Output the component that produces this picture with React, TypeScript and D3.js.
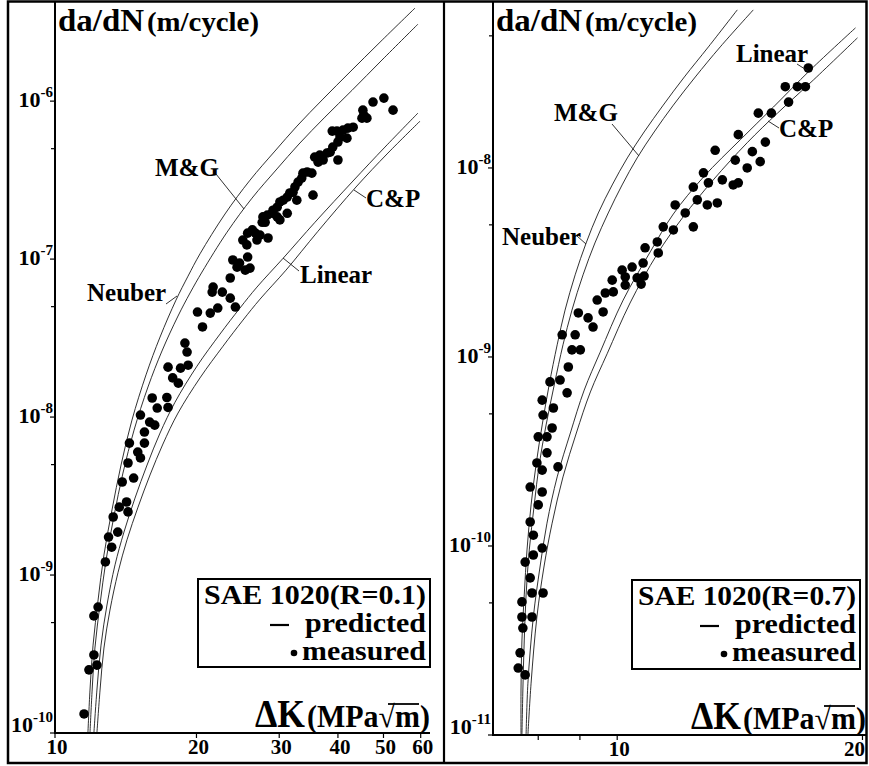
import React from 'react';
import * as d3 from 'd3';

const W = 869;
const H = 766;
const FONT = '"Liberation Serif", "Times New Roman", "DejaVu Serif", serif';

// ---------------- Left panel: SAE 1020, R = 0.1 ----------------
const leftXTicks = [10, 20, 30, 40, 50, 60];
const leftXMinor: number[] = [];
const leftYExponents = [-10, -9, -8, -7, -6];
const leftYMinor = [5e-10, 5e-9, 5e-8, 5e-7];

const leftNeuberDK = [11.75, 11.87, 12.05, 12.35, 12.71, 13.22, 13.82, 14.58, 15.62, 16.73, 18.09, 19.19, 20.35, 23.0, 26.0, 29.38, 32.73, 37.17, 42.44, 49.15, 58.34];
const leftNeuberRate = [1e-10, 1.87e-10, 3.6e-10, 6.95e-10, 1.34e-9, 2.58e-9, 4.97e-9, 9.57e-9, 1.85e-8, 3.21e-8, 5.5e-8, 7.8e-8, 1.08e-7, 1.93e-7, 3.16e-7, 4.83e-7, 6.95e-7, 1.03e-6, 1.53e-6, 2.36e-6, 3.88e-6];
const leftMGDK = [11.87, 11.99, 12.16, 12.47, 12.84, 13.35, 13.95, 14.73, 15.77, 16.89, 18.27, 19.38, 20.55, 23.23, 26.25, 29.67, 33.05, 37.53, 42.85, 49.63, 59.19];
const leftMGRate = [1e-10, 1.82e-10, 3.45e-10, 6.55e-10, 1.24e-9, 2.36e-9, 4.42e-9, 8.27e-9, 1.55e-8, 2.62e-8, 4.36e-8, 6.1e-8, 8.28e-8, 1.48e-7, 2.43e-7, 3.72e-7, 5.35e-7, 7.92e-7, 1.17e-6, 1.82e-6, 3.07e-6];
const leftLinearDK = [12.1, 12.28, 12.53, 12.9, 13.42, 14.02, 14.8, 15.7, 16.73, 18.0, 20.05, 22.44, 24.75, 26.9, 30.56, 35.74, 43.06, 50.37, 59.19];
const leftLinearRate = [1e-10, 1.87e-10, 3.6e-10, 6.46e-10, 1.16e-9, 1.87e-9, 3.07e-9, 4.97e-9, 7.92e-9, 1.24e-8, 2.1e-8, 3.35e-8, 4.9e-8, 6.65e-8, 1.01e-7, 1.71e-7, 3.12e-7, 5.12e-7, 8.4e-7];
const leftCPDK = [12.28, 12.47, 12.71, 13.09, 13.62, 14.23, 15.02, 15.93, 16.97, 18.27, 20.35, 22.78, 25.12, 27.31, 31.01, 36.27, 43.7, 51.1, 59.78];
const leftCPRate = [1e-10, 1.87e-10, 3.45e-10, 6.0e-10, 1.04e-9, 1.67e-9, 2.69e-9, 4.3e-9, 6.75e-9, 1.06e-8, 1.77e-8, 2.81e-8, 4.11e-8, 5.58e-8, 8.51e-8, 1.5e-7, 2.86e-7, 4.69e-7, 7.46e-7];

const leftMeasuredDK = [50.1, 47.5, 52.4, 45.2, 45.4, 46.1, 45.0, 43.1, 42.0, 41.0, 39.8, 38.9, 41.8, 40.4, 40.0, 39.0, 38.5, 37.9, 36.6, 35.7, 37.2, 36.3, 40.0, 34.4, 33.7, 33.5, 35.2, 32.9, 32.4, 32.1, 31.6, 31.2, 30.6, 30.1, 32.7, 35.4, 29.7, 29.1, 29.0, 28.3, 27.7, 29.7, 31.2, 30.1, 27.6, 28.0, 26.3, 25.7, 26.7, 27.3, 26.9, 28.4, 25.1, 25.6, 23.9, 25.7, 24.7, 24.4, 26.0, 25.4, 23.6, 21.7, 21.6, 22.7, 23.6, 24.2, 20.1, 21.4, 22.2, 20.6, 18.9, 19.1, 19.2, 17.4, 18.5, 17.8, 18.3, 16.1, 17.3, 16.5, 17.4, 15.2, 15.9, 16.3, 15.5, 14.4, 15.5, 15.0, 15.2, 14.3, 13.9, 14.7, 14.2, 13.7, 14.3, 13.3, 13.6, 13.0, 13.2, 12.8, 12.35, 12.1, 12.1, 11.81, 12.28, 11.53];
const leftMeasuredRate = [1.045e-6, 9.87e-7, 8.77e-7, 8.77e-7, 8.15e-7, 7.8e-7, 7.8e-7, 6.84e-7, 6.75e-7, 6.55e-7, 6.46e-7, 6.46e-7, 5.83e-7, 5.92e-7, 5.51e-7, 5.12e-7, 4.75e-7, 4.69e-7, 4.55e-7, 4.42e-7, 4.24e-7, 4.11e-7, 4.24e-7, 3.56e-7, 3.5e-7, 3.26e-7, 3.5e-7, 3.07e-7, 2.86e-7, 2.65e-7, 2.62e-7, 2.47e-7, 2.36e-7, 2.3e-7, 2.36e-7, 2.54e-7, 2.13e-7, 2.04e-7, 1.95e-7, 1.9e-7, 1.85e-7, 1.85e-7, 1.95e-7, 1.77e-7, 1.71e-7, 1.71e-7, 1.53e-7, 1.46e-7, 1.46e-7, 1.42e-7, 1.32e-7, 1.36e-7, 1.32e-7, 1.23e-7, 9.87e-8, 1.03e-7, 9.44e-8, 8.89e-8, 8.77e-8, 8.51e-8, 7.59e-8, 6.65e-8, 6.18e-8, 6.18e-8, 5.66e-8, 4.97e-8, 4.62e-8, 4.55e-8, 4.9e-8, 3.72e-8, 2.94e-8, 2.58e-8, 2.13e-8, 2.07e-8, 2.04e-8, 1.77e-8, 1.64e-8, 1.32e-8, 1.33e-8, 1.14e-8, 1.15e-8, 1.03e-8, 9.29e-9, 8.89e-9, 8.04e-9, 6.84e-9, 6.84e-9, 6.0e-9, 5.51e-9, 5.12e-9, 3.88e-9, 4.11e-9, 2.9e-9, 2.69e-9, 2.51e-9, 2.33e-9, 1.87e-9, 1.74e-9, 1.5e-9, 1.21e-9, 6.27e-10, 5.51e-10, 3.12e-10, 2.51e-10, 2.69e-10, 1.32e-10];

// ---------------- Right panel: SAE 1020, R = 0.7 ----------------
const rightXTicks = [10, 20];
const rightXMinor = [8, 9];
const rightYExponents = [-11, -10, -9, -8];
const rightYMinor = [5e-11, 5e-10, 5e-9, 5e-8];

const rightNeuberDK = [7.62, 7.62, 7.64, 7.69, 7.75, 7.84, 7.95, 8.09, 8.25, 8.44, 8.63, 8.88, 9.16, 9.48, 9.86, 10.29, 10.79, 11.39, 12.09, 12.94, 14.04];
const rightNeuberRate = [1e-11, 1.73e-11, 3.18e-11, 5.51e-11, 9.53e-11, 1.65e-10, 2.68e-10, 4.37e-10, 7.11e-10, 1.16e-9, 1.77e-9, 2.72e-9, 4.01e-9, 5.78e-9, 8.13e-9, 1.13e-8, 1.55e-8, 2.15e-8, 3.03e-8, 4.37e-8, 6.86e-8];
const rightMGDK = [7.64, 7.66, 7.69, 7.73, 7.8, 7.91, 8.02, 8.18, 8.37, 8.58, 8.8, 9.08, 9.39, 9.75, 10.14, 10.58, 11.1, 11.72, 12.47, 13.38, 14.69];
const rightMGRate = [1e-11, 1.73e-11, 3.18e-11, 5.51e-11, 9.53e-11, 1.65e-10, 2.68e-10, 4.37e-10, 7.11e-10, 1.16e-9, 1.77e-9, 2.72e-9, 4.01e-9, 5.78e-9, 8.13e-9, 1.13e-8, 1.55e-8, 2.15e-8, 3.03e-8, 4.37e-8, 6.86e-8];
const rightLinearDK = [7.73, 7.77, 7.89, 8.04, 8.2, 8.44, 8.76, 9.11, 9.53, 10.17, 10.98, 11.72, 12.76, 14.16, 15.55, 17.26, 19.61];
const rightLinearRate = [1e-11, 1.88e-11, 4.21e-11, 7.74e-11, 1.32e-10, 2.32e-10, 3.96e-10, 6.68e-10, 1.06e-9, 2.0e-9, 3.6e-9, 5.71e-9, 8.95e-9, 1.41e-8, 2.1e-8, 3.3e-8, 5.51e-8];
const rightCPDK = [7.77, 7.84, 7.97, 8.13, 8.32, 8.58, 8.91, 9.27, 9.72, 10.37, 11.2, 12.05, 13.12, 14.44, 15.73, 17.41, 19.72];
const rightCPRate = [1e-11, 1.88e-11, 4.21e-11, 7.74e-11, 1.32e-10, 2.32e-10, 3.96e-10, 6.53e-10, 1.04e-9, 1.93e-9, 3.51e-9, 5.51e-9, 8.65e-9, 1.36e-8, 1.95e-8, 2.92e-8, 4.88e-8];

const rightMeasuredDK = [17.16, 16.08, 16.64, 17.02, 16.23, 14.9, 15.46, 14.08, 15.2, 13.19, 14.65, 13.96, 14.98, 14.44, 12.76, 12.94, 13.46, 13.88, 14.08, 12.4, 12.54, 12.9, 13.27, 11.78, 12.12, 11.39, 11.72, 12.4, 11.2, 10.82, 11.23, 10.14, 10.43, 10.76, 10.23, 10.58, 10.79, 10.7, 10.23, 9.86, 9.67, 9.89, 9.45, 9.61, 8.96, 9.21, 9.34, 8.56, 8.88, 8.8, 9.01, 8.71, 8.27, 8.51, 8.68, 8.09, 8.11, 8.35, 8.32, 8.0, 8.2, 8.2, 7.97, 8.09, 8.46, 7.82, 8.09, 8.0, 7.82, 7.89, 8.09, 7.71, 7.89, 7.82, 7.86, 8.11, 7.64, 7.64, 7.86, 7.66, 7.6, 7.56, 7.71];
const rightMeasuredRate = [3.38e-8, 2.69e-8, 2.69e-8, 2.69e-8, 2.23e-8, 1.95e-8, 1.95e-8, 1.5e-8, 1.37e-8, 1.24e-8, 1.22e-8, 1.1e-8, 1.08e-8, 1.0e-8, 9.42e-9, 8.34e-9, 8.65e-9, 8.13e-9, 8.34e-9, 7.92e-9, 6.78e-9, 6.37e-9, 6.53e-9, 6.37e-9, 5.78e-9, 4.88e-9, 4.7e-9, 4.88e-9, 4.06e-9, 3.78e-9, 3.55e-9, 2.88e-9, 2.99e-9, 3.14e-9, 2.65e-9, 2.62e-9, 2.68e-9, 2.43e-9, 2.4e-9, 2.55e-9, 2.18e-9, 2.21e-9, 2.0e-9, 1.73e-9, 1.71e-9, 1.61e-9, 1.44e-9, 1.31e-9, 1.31e-9, 1.09e-9, 1.09e-9, 8.85e-10, 7.38e-10, 7.55e-10, 6.46e-10, 5.91e-10, 4.93e-10, 5.37e-10, 4.21e-10, 3.78e-10, 3.78e-10, 3.11e-10, 2.75e-10, 2.52e-10, 2.62e-10, 2.05e-10, 1.93e-10, 1.65e-10, 1.34e-10, 1.14e-10, 9.75e-11, 8.22e-11, 8.96e-11, 6.78e-11, 5.64e-11, 5.64e-11, 5.06e-11, 4.21e-11, 4.21e-11, 3.68e-11, 2.72e-11, 2.26e-11, 2.08e-11];

const curveNames = ['Neuber', 'M&G', 'Linear', 'C&P'];
const legendTitles = ['SAE 1020(R=0.1)', 'SAE 1020(R=0.7)'];
const legendEntries = ['predicted', 'measured'];

type Label = { text: string; x: number; y: number; l: [number, number, number, number] };
interface PanelCfg {
  xDomain: [number, number];
  xRange: [number, number];
  yDomain: [number, number];
  yRange: [number, number];
  xTicks: number[];
  xMinor: number[];
  yExp: number[];
  yMinor: number[];
  curves: { k: number[]; v: number[] }[];
  dotsK: number[];
  dotsV: number[];
  labels: Label[];
  legend: { x: number; y: number; w: number; h: number; title: string };
}

const leftCfg: PanelCfg = {
  xDomain: [10, 62.8],
  xRange: [55, 430],
  yDomain: [1e-10, 4.06e-6],
  yRange: [733, 5],
  xTicks: leftXTicks,
  xMinor: leftXMinor,
  yExp: leftYExponents,
  yMinor: leftYMinor,
  curves: [
    { k: leftNeuberDK, v: leftNeuberRate },
    { k: leftMGDK, v: leftMGRate },
    { k: leftLinearDK, v: leftLinearRate },
    { k: leftCPDK, v: leftCPRate },
  ],
  dotsK: leftMeasuredDK,
  dotsV: leftMeasuredRate,
  labels: [
    { text: curveNames[0], x: 87, y: 301, l: [166, 304, 177, 296] },
    { text: curveNames[1], x: 155, y: 176, l: [216, 174, 244, 209] },
    { text: curveNames[2], x: 300, y: 283, l: [299, 271, 283, 258] },
    { text: curveNames[3], x: 366, y: 207, l: [366, 198, 354, 190] },
  ],
  legend: { x: 198, y: 579, w: 232, h: 88, title: legendTitles[0] },
};

const rightCfg: PanelCfg = {
  xDomain: [7.04, 20.2],
  xRange: [493, 866],
  yDomain: [1e-11, 7.28e-8],
  yRange: [735, 5],
  xTicks: rightXTicks,
  xMinor: rightXMinor,
  yExp: rightYExponents,
  yMinor: rightYMinor,
  curves: [
    { k: rightNeuberDK, v: rightNeuberRate },
    { k: rightMGDK, v: rightMGRate },
    { k: rightLinearDK, v: rightLinearRate },
    { k: rightCPDK, v: rightCPRate },
  ],
  dotsK: rightMeasuredDK,
  dotsV: rightMeasuredRate,
  labels: [
    { text: curveNames[0], x: 502, y: 245, l: [577, 236, 586, 244] },
    { text: curveNames[1], x: 554, y: 121, l: [612, 124, 639, 156] },
    { text: curveNames[2], x: 736, y: 62, l: [797, 64, 808, 71] },
    { text: curveNames[3], x: 779, y: 137, l: [779, 128, 768, 121] },
  ],
  legend: { x: 632, y: 580, w: 228, h: 89, title: legendTitles[1] },
};

const bold = { fontFamily: FONT, fontWeight: 700 as const };

function Panel({ c }: { c: PanelCfg }) {
  const x = d3.scaleLog().domain(c.xDomain).range(c.xRange);
  const y = d3.scaleLog().domain(c.yDomain).range(c.yRange);
  const line = d3
    .line<[number, number]>()
    .x((d) => x(d[0]))
    .y((d) => y(d[1]))
    .curve(d3.curveCatmullRom.alpha(0.5));
  const x0 = c.xRange[0];
  const x1 = c.xRange[1];
  const yb = c.yRange[0];
  const yt = c.yRange[1];
  const lg = c.legend;
  const R = lg.x + lg.w;
  return (
    <g>
      {c.curves.map((cv, i) => (
        <path
          key={'c' + i}
          d={line(cv.k.map((k, j) => [k, cv.v[j]] as [number, number])) || ''}
          fill="none"
          stroke="#1a1a1a"
          strokeWidth={0.9}
        />
      ))}
      {c.dotsK.map((k, i) => (
        <circle key={'d' + i} cx={x(k)} cy={y(c.dotsV[i])} r={4.8} fill="#000" />
      ))}
      <line x1={x0} y1={yt - 3} x2={x0} y2={yb + 1} stroke="#000" strokeWidth={2} />
      <line x1={x0 - 1} y1={yb} x2={x1} y2={yb} stroke="#000" strokeWidth={2} />
      {c.yExp.map((e) => {
        const yy = y(Math.pow(10, e));
        const isBottom = Math.abs(yy - yb) < 2;
        return (
          <g key={'ye' + e}>
            <line x1={x0 - 5} y1={yy} x2={x0} y2={yy} stroke="#000" strokeWidth={1.2} />
            <text x={x0 - 2} y={isBottom ? yy - 1 : yy + 6} textAnchor="end" fontSize={22} {...bold}>
              10
              <tspan fontSize={15} dy={-10}>
                {String(e)}
              </tspan>
            </text>
          </g>
        );
      })}
      {c.yMinor.map((v) => (
        <line key={'ym' + v} x1={x0 - 4} y1={y(v)} x2={x0} y2={y(v)} stroke="#000" strokeWidth={1.2} />
      ))}
      {c.xTicks.map((t) => {
        const tx = x(t);
        const nearEdge = tx > W - 14;
        return (
          <g key={'xt' + t}>
            <line x1={tx} y1={yb} x2={tx} y2={yb + 5} stroke="#000" strokeWidth={1.2} />
            <text
              x={nearEdge ? W - 4 : tx + 2}
              y={yb + 21}
              textAnchor={nearEdge ? 'end' : 'middle'}
              fontSize={21}
              {...bold}
            >
              {t}
            </text>
          </g>
        );
      })}
      {c.xMinor.map((t) => (
        <line key={'xm' + t} x1={x(t)} y1={yb} x2={x(t)} y2={yb + 5} stroke="#000" strokeWidth={1.2} />
      ))}
      <text x={x0 + 3} y={31} fontSize={31} textLength={86} lengthAdjust="spacingAndGlyphs" {...bold}>
        da/dN
      </text>
      <text x={x0 + 92} y={31} fontSize={27} textLength={112} lengthAdjust="spacingAndGlyphs" {...bold}>
        (m/cycle)
      </text>
      <text x={x1 - 175} y={yb - 6} fontSize={40} textLength={50} lengthAdjust="spacingAndGlyphs" {...bold}>
        ΔK
      </text>
      <text x={x1 - 123} y={yb - 6} fontSize={31} textLength={123} lengthAdjust="spacingAndGlyphs" {...bold}>
        (MPa√m)
      </text>
      <line x1={x1 - 42} y1={yb - 29} x2={x1 - 11} y2={yb - 29} stroke="#000" strokeWidth={1.8} />
      {c.labels.map((l) => (
        <g key={'lb' + l.text}>
          <text x={l.x} y={l.y} fontSize={25} {...bold}>
            {l.text}
          </text>
          <line x1={l.l[0]} y1={l.l[1]} x2={l.l[2]} y2={l.l[3]} stroke="#1a1a1a" strokeWidth={0.9} />
        </g>
      ))}
      <rect x={lg.x} y={lg.y} width={lg.w} height={lg.h} fill="#fff" stroke="#000" strokeWidth={2} />
      <text x={lg.x + 6} y={lg.y + 25} fontSize={28} textLength={lg.w - 10} lengthAdjust="spacingAndGlyphs" {...bold}>
        {lg.title}
      </text>
      <line x1={R - 160} y1={lg.y + 46} x2={R - 141} y2={lg.y + 46} stroke="#000" strokeWidth={2.2} />
      <text x={R - 4} y={lg.y + 53} textAnchor="end" fontSize={28} textLength={121} lengthAdjust="spacingAndGlyphs" {...bold}>
        {legendEntries[0]}
      </text>
      <circle cx={R - 136} cy={lg.y + 74} r={3.3} fill="#000" />
      <text x={R - 4} y={lg.y + 81} textAnchor="end" fontSize={28} textLength={124} lengthAdjust="spacingAndGlyphs" {...bold}>
        {legendEntries[1]}
      </text>
    </g>
  );
}

export default function App() {
  return (
    <svg
      width={W}
      height={H}
      viewBox={`0 0 ${W} ${H}`}
      style={{ position: 'absolute', left: 0, top: 0, display: 'block', background: '#fff' }}
    >
      <rect x={0} y={0} width={W} height={H} fill="#fff" />
      <Panel c={leftCfg} />
      <Panel c={rightCfg} />
      <rect x={8} y={1.5} width={858.5} height={761.5} fill="none" stroke="#000" strokeWidth={2.5} />
      <line x1={444} y1={1} x2={444} y2={763} stroke="#000" strokeWidth={2.2} />
    </svg>
  );
}
